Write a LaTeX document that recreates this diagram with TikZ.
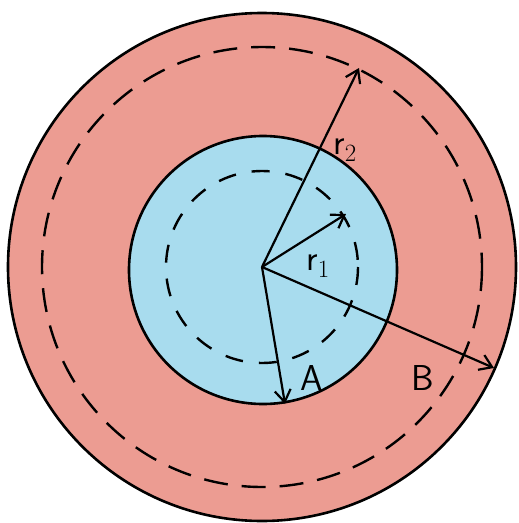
\documentclass[tikz,border=0pt]{standalone}
\usepackage{xcolor}
\usepackage{tikz}
\usetikzlibrary{arrows.meta}
\definecolor{shellred}{RGB}{236,156,146}
\definecolor{coreblue}{RGB}{168,220,238}

\begin{document}
\begin{tikzpicture}[x=1pt,y=-1pt,>={Straight Barb[length=12pt,width=16pt]},font=\sffamily\fontsize{36}{38}\selectfont]
  \useasboundingbox (0,0) rectangle (519,523);
  \coordinate (O) at (262,267);
  \fill[shellred] (O) circle (254);
  \fill[coreblue] (263,270) circle (134);
  \draw[line width=2.6pt] (O) circle (254);
  \draw[line width=2.6pt] (263,270) circle (134);
  \draw[line width=2.4pt,dash pattern=on 24pt off 14pt] (O) circle (220);
  \draw[line width=2.4pt,dash pattern=on 18pt off 16pt] (O) circle (96);
  \coordinate (R2) at (359,68);
  \coordinate (R1) at (346,214);
  \coordinate (A) at (285,404);
  \coordinate (B) at (494,368);
  \draw[->,line width=2.2pt] (O) -- (R2);
  \draw[->,line width=2.2pt] (O) -- (R1);
  \draw[->,line width=2.2pt] (O) -- (A);
  \draw[->,line width=2.2pt] (O) -- (B);
  \node (lr2) at (345,150) {r$_2$};
  \node (lr1) at (318,266) {r$_1$};
  \node (lA) at (312,378) {A};
  \node (lB) at (423,378) {B};
\end{tikzpicture}
\end{document}
